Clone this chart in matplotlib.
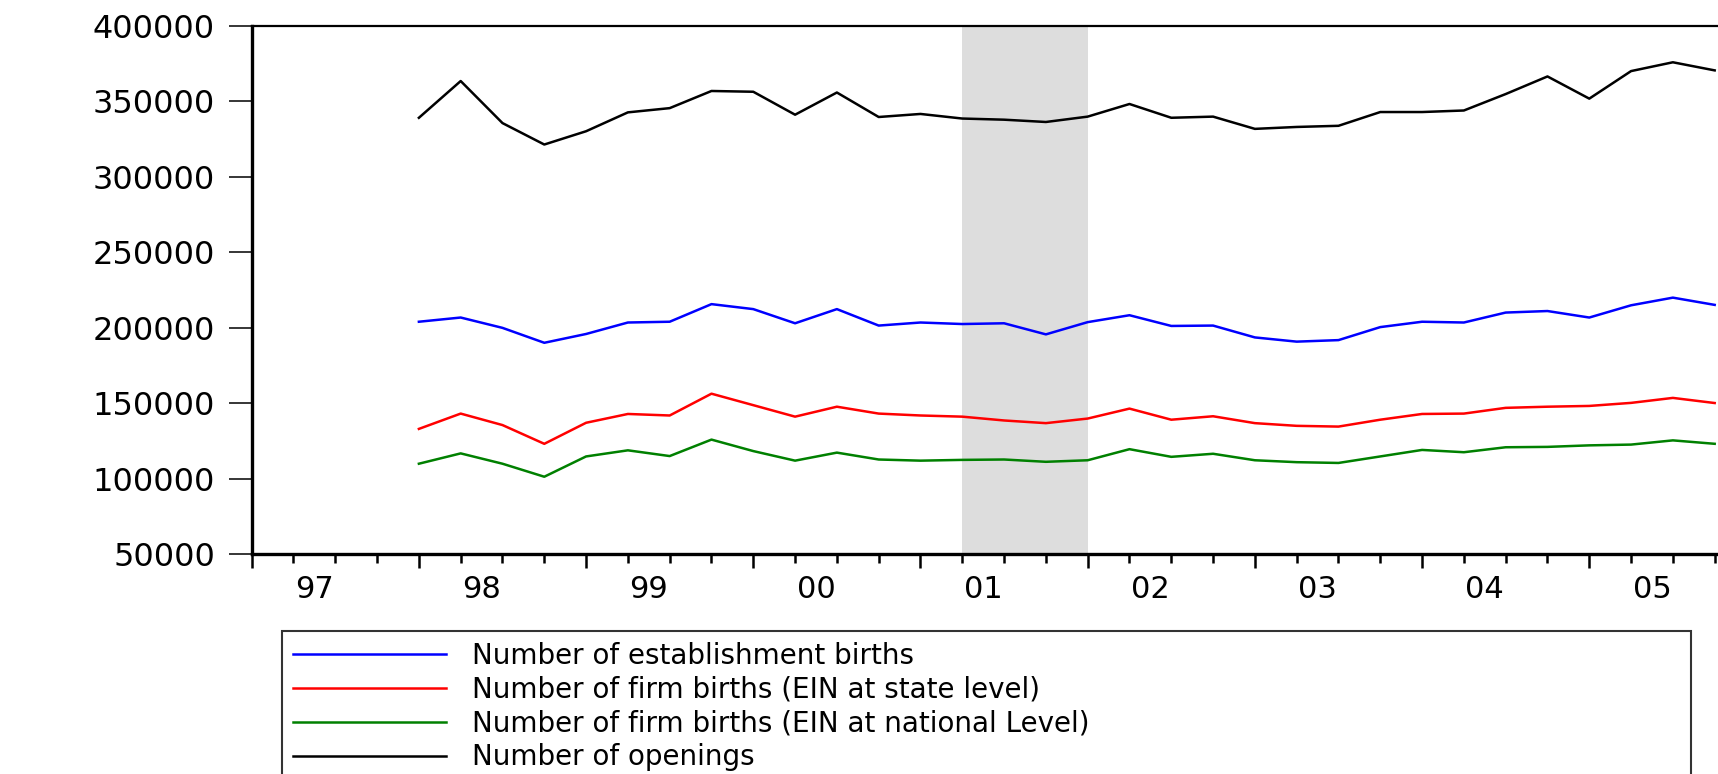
import numpy as np
import pandas as pd
import matplotlib
matplotlib.use("Agg")
import matplotlib.pyplot as plt
from matplotlib.ticker import FixedLocator, NullFormatter

plt.rcParams['font.family'] = ['DejaVu Sans']

# quarterly data, 1998Q1 - 2005Q4
periods = pd.period_range('1998Q1', '2005Q4', freq='Q')

establishment_births = [203840, 206625, 199780, 189900, 195730, 203330, 203840, 215500,
                        212200, 202820, 212200, 201300, 203330, 202320, 202820, 195470,
                        203580, 208150, 201050, 201300, 193450, 190660, 191670, 200290,
                        203840, 203330, 209920, 210930, 206625, 214730, 219800, 215000]
firm_births_state = [132870, 143010, 135410, 122990, 136930, 142760, 141750, 156190,
                     148590, 140980, 147570, 143010, 141750, 140980, 138450, 136680,
                     139720, 146310, 138960, 141240, 136680, 134900, 134400, 138960,
                     142760, 143010, 146810, 147570, 148080, 150100, 153400, 150000]
firm_births_national = [109810, 116650, 109810, 101190, 114630, 118680, 114880, 125780,
                        118180, 111840, 117160, 112600, 111840, 112350, 112600, 111080,
                        112100, 119440, 114370, 116400, 112100, 110830, 110320, 114630,
                        118940, 117420, 120710, 120960, 121970, 122480, 125270, 123000]
openings = [338900, 363250, 335400, 321200, 330000, 342500, 345300, 356660,
            356150, 340950, 355650, 339430, 341450, 338410, 337650, 336130,
            339680, 348045, 338920, 339680, 331570, 332840, 333600, 342720,
            342720, 343740, 354630, 366290, 351590, 369840, 375670, 370300]

series_labels = ['Number of establishment births',
                 'Number of firm births (EIN at state level)',
                 'Number of firm births (EIN at national Level)',
                 'Number of openings']
series_colors = ['blue', 'red', 'green', 'black']

year_labels = ['97', '98', '99', '00', '01', '02', '03', '04', '05']
recession = ('2001Q2', '2002Q1')

# x = quarters since 1997Q1
def qpos(p):
    p = pd.Period(p, freq='Q')
    return (p.year - 1997) * 4 + p.quarter - 1

x = np.array([qpos(p) for p in periods])

fig = plt.figure(figsize=(17.18, 7.74), dpi=100)
ax = fig.add_axes([0.1465, 0.2842, 0.8759, 0.6828])

ax.axvspan(qpos(recession[0]), qpos(recession[1]), color='#dddddd', lw=0, zorder=0)

lines = []
for vals, lab, col in zip([establishment_births, firm_births_state, firm_births_national, openings],
                          series_labels, series_colors):
    ln, = ax.plot(x, vals, color=col, lw=1.8, label=lab, zorder=3)
    lines.append(ln)

ax.set_xlim(0, 36)
ax.set_ylim(50000, 400000)
ax.set_yticks(np.arange(50000, 400001, 50000))
ax.set_yticklabels([str(v) for v in range(50000, 400001, 50000)])

year_starts = [qpos(('19' if y.startswith('9') else '20') + y + 'Q1') for y in year_labels]
ax.xaxis.set_major_locator(FixedLocator(year_starts))
ax.xaxis.set_minor_locator(FixedLocator(np.arange(0, 37)))
ax.xaxis.set_major_formatter(NullFormatter())

# EViews puts the year label in the middle of the four quarters
for pos, yl in zip(year_starts, year_labels):
    ax.text(pos + 1.5, -0.04, yl, transform=ax.get_xaxis_transform(),
            ha='center', va='top', fontsize=22)

ax.tick_params(axis='y', direction='out', length=16.5, width=1.1, pad=10, labelsize=23)
ax.tick_params(axis='x', which='major', direction='out', length=10, width=1.8)
ax.tick_params(axis='x', which='minor', direction='out', length=6.5, width=1.8)

for s in ['left', 'bottom']:
    ax.spines[s].set_linewidth(2.4)
ax.spines['top'].set_linewidth(1.6)
ax.spines['right'].set_visible(False)

leg = fig.legend(handles=lines, loc='upper left',
                 bbox_to_anchor=(282 / 1718, 0, (1691 - 282) / 1718, 0.1852),
                 mode='expand', borderaxespad=0, fontsize=20, handlelength=5.5,
                 handletextpad=0.95, labelspacing=0.21, borderpad=0.4,
                 frameon=True, fancybox=False, edgecolor='black')
leg.get_frame().set_linewidth(1.5)

fig.savefig('out.png', dpi=100)
